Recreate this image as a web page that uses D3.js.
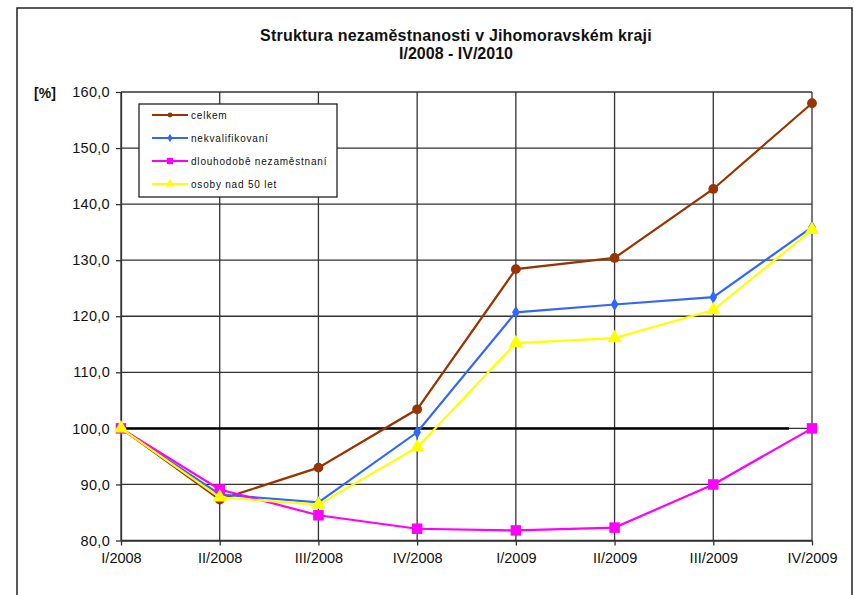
<!DOCTYPE html>
<html>
<head>
<meta charset="utf-8">
<script src="https://cdn.jsdelivr.net/npm/d3@7"></script>
<style>
  body { margin: 0; background: #fff; }
  text { font-family: "Liberation Sans", Arial, sans-serif; fill: #111; }
</style>
</head>
<body>
<div id="chart"></div>
<script>
const quarters = ['I/2008', 'II/2008', 'III/2008', 'IV/2008', 'I/2009', 'II/2009', 'III/2009', 'IV/2009']
const yTicks = [80, 90, 100, 110, 120, 130, 140, 150, 160]

const celkem = [100, 87.3, 93.0, 103.4, 128.4, 130.4, 142.7, 158.0]
const nekvalifikovani = [100, 88.2, 86.8, 99.3, 120.7, 122.1, 123.4, 135.9]
const dlouhodobe = [100, 89.1, 84.5, 82.1, 81.8, 82.3, 90.0, 100.0]
const osoby50 = [100, 87.7, 86.4, 96.6, 115.2, 116.1, 121.1, 135.4]

const seriesNames = ['celkem', 'nekvalifikovaní', 'dlouhodobě nezaměstnaní', 'osoby nad 50 let']

const W = 854, H = 595
const PLOT = { LEFT: 121, RIGHT: 812, TOP: 92, BOTTOM: 540.5 }

const series = [
  { name: seriesNames[0], values: celkem, color: '#993300', marker: 'circle' },
  { name: seriesNames[1], values: nekvalifikovani, color: '#3366FF', marker: 'diamond' },
  { name: seriesNames[2], values: dlouhodobe, color: '#FF00FF', marker: 'square' },
  { name: seriesNames[3], values: osoby50, color: '#FFFF00', marker: 'triangle' }
]

const svg = d3.select('#chart').append('svg')
  .attr('width', W)
  .attr('height', H)

// outer frame
svg.append('rect')
  .attr('x', 17).attr('y', 8)
  .attr('width', 835).attr('height', 600)
  .attr('fill', 'none').attr('stroke', '#222').attr('stroke-width', 1.5)

const x = d3.scalePoint()
  .domain(quarters)
  .range([PLOT.LEFT, PLOT.RIGHT])

const y = d3.scaleLinear()
  .domain([80, 160])
  .range([PLOT.BOTTOM, PLOT.TOP])

const fmt = d => d3.format('.1f')(d).replace('.', ',')

// grid
svg.append('g')
  .selectAll('line')
  .data(yTicks)
  .join('line')
    .attr('x1', PLOT.LEFT).attr('x2', PLOT.RIGHT)
    .attr('y1', d => y(d)).attr('y2', d => y(d))
    .attr('stroke', '#333').attr('stroke-width', 1.3)

svg.append('g')
  .selectAll('line')
  .data(quarters)
  .join('line')
    .attr('x1', d => x(d)).attr('x2', d => x(d))
    .attr('y1', PLOT.TOP).attr('y2', PLOT.BOTTOM)
    .attr('stroke', '#333').attr('stroke-width', 1.3)

// reference line at 100
svg.append('line')
  .attr('x1', PLOT.LEFT).attr('x2', PLOT.RIGHT - 23)
  .attr('y1', y(100)).attr('y2', y(100))
  .attr('stroke', '#000').attr('stroke-width', 2.5)

// axes
const yAxis = svg.append('g')
  .attr('transform', `translate(${PLOT.LEFT},0)`)
  .call(d3.axisLeft(y).tickValues(yTicks).tickFormat(fmt).tickSize(5).tickPadding(6).tickSizeOuter(0))
yAxis.select('.domain').attr('stroke', '#333').attr('stroke-width', 1.3)
yAxis.selectAll('.tick line').attr('stroke', '#333').attr('stroke-width', 1.3)
yAxis.selectAll('.tick text')
  .attr('font-size', 14.5).attr('letter-spacing', 0.3)
  .attr('font-family', '"Liberation Sans", Arial, sans-serif').attr('fill', '#111')

const xAxis = svg.append('g')
  .attr('transform', `translate(0,${PLOT.BOTTOM})`)
  .call(d3.axisBottom(x).tickSize(5).tickPadding(7).tickSizeOuter(0))
xAxis.select('.domain').attr('stroke', '#333').attr('stroke-width', 1.3)
xAxis.selectAll('.tick line').attr('stroke', '#333').attr('stroke-width', 1.3)
xAxis.selectAll('.tick text')
  .attr('font-size', 14.5)
  .attr('font-family', '"Liberation Sans", Arial, sans-serif').attr('fill', '#111')

svg.append('text')
  .attr('x', 45).attr('y', 98)
  .attr('text-anchor', 'middle')
  .attr('font-size', 14).attr('font-weight', 'bold')
  .text('[%]')

// title
svg.append('text')
  .attr('x', 456).attr('y', 41)
  .attr('text-anchor', 'middle')
  .attr('font-size', 16).attr('font-weight', 'bold')
  .attr('letter-spacing', 0.2)
  .text('Struktura nezaměstnanosti v Jihomoravském kraji')
svg.append('text')
  .attr('x', 456).attr('y', 59)
  .attr('text-anchor', 'middle')
  .attr('font-size', 16).attr('font-weight', 'bold')
  .text('I/2008 - IV/2010')

const markerPath = (type) => {
  if (type === 'circle') return d3.symbol(d3.symbolCircle, 75)()
  if (type === 'diamond') return d3.symbol(d3.symbolDiamond, 50)()
  if (type === 'square') return d3.symbol(d3.symbolSquare, 110)()
  return d3.symbol(d3.symbolTriangle, 90)()
}

const line = d3.line()
  .x((d, i) => x(quarters[i]))
  .y(d => y(d))

series.forEach(s => {
  svg.append('path')
    .datum(s.values)
    .attr('d', line)
    .attr('fill', 'none')
    .attr('stroke', s.color)
    .attr('stroke-width', 2.2)

  svg.append('g')
    .selectAll('path')
    .data(s.values)
    .join('path')
      .attr('d', markerPath(s.marker))
      .attr('transform', (d, i) => `translate(${x(quarters[i])},${y(d)})`)
      .attr('fill', s.color)
})

// legend
const legend = svg.append('g').attr('transform', 'translate(139,104)')
legend.append('rect')
  .attr('width', 198).attr('height', 93)
  .attr('fill', '#fff').attr('stroke', '#222').attr('stroke-width', 1.3)

const legendScale = d3.scalePoint()
  .domain(seriesNames)
  .range([11, 80])

series.forEach(s => {
  const row = legend.append('g').attr('transform', `translate(0,${legendScale(s.name)})`)
  row.append('line')
    .attr('x1', 13).attr('x2', 49)
    .attr('stroke', s.color).attr('stroke-width', 2.2)
  const sizes = { circle: 18, diamond: 22, square: 40, triangle: 35 }
  const sym = { circle: d3.symbolCircle, diamond: d3.symbolDiamond, square: d3.symbolSquare, triangle: d3.symbolTriangle }
  row.append('path')
    .attr('d', d3.symbol(sym[s.marker], sizes[s.marker])())
    .attr('transform', 'translate(31,0)')
    .attr('fill', s.color)
  row.append('text')
    .attr('x', 52).attr('y', 3.5)
    .attr('font-size', 10)
    .attr('letter-spacing', 0.8)
    .text(s.name)
})
</script>
</body>
</html>
